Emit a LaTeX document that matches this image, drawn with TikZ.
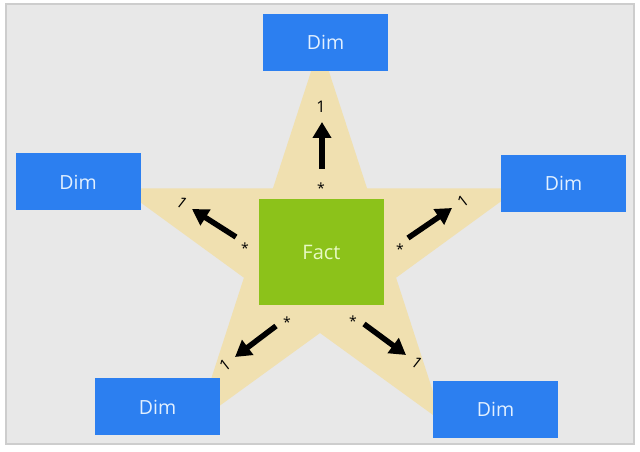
\documentclass[tikz,border=0pt]{standalone}
\usepackage{fontspec}
\setmainfont{Open Sans}
\usepackage{tikz}
\usetikzlibrary{arrows.meta, positioning, calc}
\definecolor{dimblue}{RGB}{44,127,240}
\definecolor{dimtext}{RGB}{226,240,255}
\definecolor{factgreen}{RGB}{140,194,26}
\definecolor{facttext}{RGB}{232,250,196}
\definecolor{startan}{RGB}{240,224,176}
\definecolor{panelgray}{RGB}{232,232,232}
\definecolor{panelline}{RGB}{205,205,205}
\tikzset{
  dim/.style={rectangle, minimum width=125pt, minimum height=57pt, inner sep=0pt, text centered, fill=dimblue, text=dimtext, font=\fontsize{19.5}{22}\selectfont},
  fact/.style={rectangle, minimum width=125pt, minimum height=106pt, inner sep=0pt, text centered, fill=factgreen, text=facttext, font=\fontsize{20}{22}\selectfont},
  rel/.style={line width=5.5pt, -{Triangle[width=18pt,length=16pt]}, color=black}
}

\begin{document}
\begin{tikzpicture}[x=1pt, y=1pt,
  uno/.style={font=\fontsize{16}{18}\selectfont, inner sep=0pt},
  muchos/.style={font=\fontsize{14}{16}\selectfont, inner sep=0pt}]
  \useasboundingbox (0,0) rectangle (640,452);
  \fill[white] (0,0) rectangle (640,452);
  \draw[fill=panelgray, draw=panelline, line width=1.5pt] (6,8) rectangle (634,448);
  % Star behind everything
  \fill[startan, shift={(320,199)}] (90:209) -- (126:80) -- (162:209) -- (198:80) -- (234:209) -- (270:80) -- (306:209) -- (342:80) -- (18:209) -- (54:80) -- cycle;
  % Fact and dimensions
  \node (fact) [fact] at (321.5,200) {Fact};
  \node (dimT) [dim] at (325.5,409.5) {Dim};
  \node (dimL) [dim] at (78,270) {Dim};
  \node (dimR) [dim] at (563.5,268.5) {Dim};
  \node (dimBL) [dim] at (157.5,45) {Dim};
  \node (dimBR) [dim] at (495.5,42.5) {Dim};
  % Relationship arrows
  \coordinate (sT) at (322,283);   \coordinate (eT) at (322,330);
  \coordinate (sL) at (236,215);   \coordinate (eL) at (192,243);
  \coordinate (sR) at (408,214);   \coordinate (eR) at (452,244);
  \coordinate (sBL) at (276,126);  \coordinate (eBL) at (235,95);
  \coordinate (sBR) at (364,128);  \coordinate (eBR) at (406,97);
  \draw [rel] (sT) -- (eT);
  \draw [rel] (sL) -- (eL);
  \draw [rel] (sR) -- (eR);
  \draw [rel] (sBL) -- (eBL);
  \draw [rel] (sBR) -- (eBR);
  % Cardinalities
  \node (nT) [muchos] at (321,264) {*};
  \node (nL) [muchos] at (245,204) {*};
  \node (nR) [muchos] at (400,203) {*};
  \node (nBL) [muchos] at (287,130) {*};
  \node (nBR) [muchos] at (353,131) {*};
  \node (uT) [uno] at (321,345) {1};
  \node (uL) [uno, rotate=-38] at (182,249) {1};
  \node (uR) [uno, rotate=38] at (463,251) {1};
  \node (uBL) [uno, rotate=38] at (225,87) {1};
  \node (uBR) [uno, rotate=-38] at (417,89) {1};
\end{tikzpicture}
\end{document}
